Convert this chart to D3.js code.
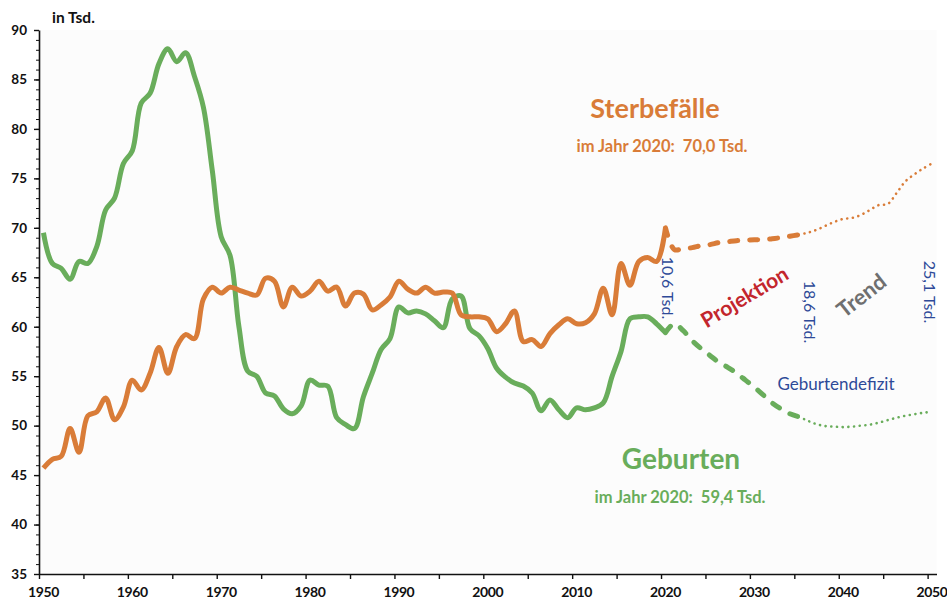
<!DOCTYPE html>
<html>
<head>
<meta charset="utf-8">
<title>Geburten und Sterbefälle</title>
<script src="https://d3js.org/d3.v7.min.js"></script>
<style>
  body { margin: 0; background: #fff; }
  svg text { font-family: Lato, "Open Sans", sans-serif; }
</style>
</head>
<body>
<div id="chart"></div>
<script>
// Werte in Tsd.
var FIRST_YEAR = 1950;
var births = [69.5, 66.4, 65.9, 64.8, 66.6, 66.4, 68.1, 71.8, 73.0, 76.5,
              77.8, 82.6, 83.6, 86.6, 88.1, 86.8, 87.7, 85.3, 82.2, 75.8,
              69.1, 67.2, 60.0, 55.5, 55.0, 53.3, 53.0, 51.7, 51.2, 52.0,
              54.6, 54.1, 54.0, 50.8, 50.1, 49.7, 52.9, 55.3, 57.7, 58.8,
              62.0, 61.4, 61.6, 61.3, 60.6, 59.9, 62.8, 63.1, 59.8, 59.1,
              57.8, 55.8, 54.9, 54.3, 54.0, 53.3, 51.5, 52.6, 51.6, 50.8,
              51.8, 51.6, 51.8, 52.3, 55.0, 57.5, 60.8, 61.0, 61.0, 60.3,
              59.4];
var deaths = [45.7, 46.6, 46.9, 49.7, 47.3, 51.0, 51.4, 52.8, 50.6, 51.9,
              54.6, 53.6, 55.3, 57.9, 55.3, 58.0, 59.2, 58.8, 62.8, 64.0,
              63.4, 64.0, 63.7, 63.4, 63.2, 64.9, 64.6, 62.0, 64.0, 63.1,
              63.6, 64.6, 63.6, 64.0, 62.1, 63.4, 63.3, 61.7, 62.2, 63.0,
              64.6, 63.8, 63.4, 64.0, 63.4, 63.5, 63.4, 61.2, 61.0, 61.0,
              60.8, 59.5, 60.3, 61.6, 58.5, 58.7, 58.0, 59.3, 60.2, 60.8,
              60.3, 60.4, 61.3, 63.9, 61.2, 66.4, 64.2, 66.6, 67.0, 66.6,
              70.0];

// Projektion 2020-2035
var PROJ_START = 2020;
var birthsProj = [59.4, 60.3, 59.6, 58.6, 57.8, 57.1, 56.4, 55.9, 55.3, 54.6,
                  53.9, 53.1, 52.3, 51.7, 51.2, 50.9];
var deathsProj = [70.0, 67.8, 67.9, 68.0, 68.2, 68.3, 68.5, 68.6, 68.7, 68.75,
                  68.8, 68.8, 68.9, 69.0, 69.15, 69.3];

// Trend 2035-2050
var TREND_START = 2035;
var birthsTrend = [50.9, 50.5, 50.15, 49.95, 49.9, 49.85, 49.9, 50.0, 50.1, 50.3,
                   50.55, 50.8, 51.0, 51.15, 51.3, 51.4];
var deathsTrend = [69.3, 69.5, 69.8, 70.2, 70.6, 70.9, 71.0, 71.3, 71.8, 72.3,
                   72.4, 73.5, 74.7, 75.4, 76.0, 76.5];

var yLabels = [35, 40, 45, 50, 55, 60, 65, 70, 75, 80, 85, 90];
var xLabels = [1950, 1960, 1970, 1980, 1990, 2000, 2010, 2020, 2030, 2040, 2050];
var xTickYears = [1950, 1955, 1960, 1965, 1970, 1975, 1980, 1985, 1990, 1995, 2000,
                  2005, 2010, 2015, 2020, 2025, 2030, 2035, 2040, 2045, 2050];

var ORANGE = "#d97c38";
var GREEN = "#69ad5b";
var BLUE = "#2e4a98";

var width = 947, height = 600;

var svg = d3.select("#chart").append("svg")
    .attr("width", width)
    .attr("height", height);

// Kategorienachse: Jahr liegt in der Mitte seines Feldes
var x = d3.scaleLinear().domain([1950, 2051]).range([39, 936.5]);
var y = d3.scaleLinear().domain([35, 90]).range([574, 30]);

svg.append("rect")
    .attr("x", x(1950)).attr("y", y(90))
    .attr("width", x(2051) - x(1950)).attr("height", y(35) - y(90))
    .attr("fill", "#fcfcfc");

function toPoints(values, start) {
    return values.map(function(v, i) { return {year: start + i, value: v}; });
}

var line = d3.line()
    .x(function(d) { return x(d.year + 0.5); })
    .y(function(d) { return y(d.value); })
    .curve(d3.curveCatmullRom.alpha(0.5));

// Y-Achse
var yMinor = d3.range(35, 91);
svg.append("g")
    .attr("transform", "translate(" + x(1950) + ",0)")
    .call(d3.axisLeft(y).tickValues(yMinor).tickSize(3).tickFormat(""))
    .call(function(g) { g.select(".domain").remove(); })
    .selectAll("line").attr("stroke", "#111").attr("stroke-width", 1);

var yAxis = svg.append("g")
    .attr("transform", "translate(" + x(1950) + ",0)")
    .call(d3.axisLeft(y).tickValues(yLabels).tickSize(5).tickPadding(7).tickSizeOuter(0));
yAxis.select(".domain").attr("stroke", "#111").attr("stroke-width", 1.6);
yAxis.selectAll(".tick line").attr("stroke", "#111").attr("stroke-width", 1.4);
yAxis.selectAll("text")
    .attr("font-family", "Lato, sans-serif")
    .attr("font-weight", 700)
    .attr("font-size", 13.5)
    .attr("fill", "#111");

// X-Achse
var xAxis = svg.append("g")
    .attr("transform", "translate(0," + y(35) + ")")
    .call(d3.axisBottom(x).tickValues(xTickYears).tickSize(5).tickFormat("").tickSizeOuter(0));
xAxis.select(".domain").attr("stroke", "#111").attr("stroke-width", 1.6);
xAxis.selectAll(".tick line").attr("stroke", "#111").attr("stroke-width", 1.4);

svg.append("g").selectAll("text")
    .data(xLabels)
    .enter().append("text")
    .attr("x", function(d) { return x(d + 0.5); })
    .attr("y", 597)
    .attr("text-anchor", "middle")
    .attr("font-weight", 700)
    .attr("font-size", 14)
    .attr("letter-spacing", -0.4)
    .attr("fill", "#111")
    .text(function(d) { return d; });

svg.append("text")
    .attr("x", 52).attr("y", 23)
    .attr("font-weight", 700)
    .attr("font-size", 15.5)
    .attr("fill", "#111")
    .text("in Tsd.");

// Linien
function drawSeries(values, start, color, width, dash) {
    svg.append("path")
        .datum(toPoints(values, start))
        .attr("fill", "none")
        .attr("stroke", color)
        .attr("stroke-width", width)
        .attr("stroke-linejoin", "round")
        .attr("stroke-linecap", dash ? "round" : "butt")
        .attr("stroke-dasharray", dash || null)
        .attr("d", line);
}

drawSeries(deathsTrend, TREND_START, ORANGE, 2.6, "0.1,5.6");
drawSeries(birthsTrend, TREND_START, GREEN, 2.6, "0.1,5.6");
drawSeries(deathsProj, PROJ_START, ORANGE, 5, "8,12");
drawSeries(birthsProj, PROJ_START, GREEN, 5, "8,12");
drawSeries(births, FIRST_YEAR, GREEN, 5, null);
drawSeries(deaths, FIRST_YEAR, ORANGE, 5, null);

// Beschriftungen
svg.append("text")
    .attr("x", 655).attr("y", 118)
    .attr("text-anchor", "middle")
    .attr("font-weight", 700).attr("font-size", 27)
    .attr("fill", ORANGE)
    .text("Sterbefälle");
svg.append("text")
    .attr("x", 662).attr("y", 152)
    .attr("text-anchor", "middle")
    .attr("font-weight", 700).attr("font-size", 16.5)
    .attr("fill", ORANGE)
    .style("white-space", "pre")
    .text("im Jahr 2020:  70,0 Tsd.");

svg.append("text")
    .attr("x", 681).attr("y", 469)
    .attr("text-anchor", "middle")
    .attr("font-weight", 700).attr("font-size", 28)
    .attr("fill", GREEN)
    .text("Geburten");
svg.append("text")
    .attr("x", 680).attr("y", 503)
    .attr("text-anchor", "middle")
    .attr("font-weight", 700).attr("font-size", 16.5)
    .attr("fill", GREEN)
    .style("white-space", "pre")
    .text("im Jahr 2020:  59,4 Tsd.");

function rotated(txt, cx, cy, angle, color, size, weight) {
    svg.append("text")
        .attr("transform", "translate(" + cx + "," + cy + ") rotate(" + angle + ")")
        .attr("text-anchor", "middle")
        .attr("dominant-baseline", "central")
        .attr("font-size", size)
        .attr("font-weight", weight)
        .attr("fill", color)
        .text(txt);
}

rotated("10,6 Tsd.", 668, 288, 90, BLUE, 16, 400);
rotated("18,6 Tsd.", 810, 312, 90, BLUE, 16, 400);
rotated("25,1 Tsd.", 930, 292, 90, BLUE, 16, 400);
rotated("Projektion", 744, 296, -31, "#c3262d", 21, 700);
rotated("Trend", 861, 295, -38, "#6f6f6f", 22, 700);

svg.append("text")
    .attr("x", 836).attr("y", 390)
    .attr("text-anchor", "middle")
    .attr("font-size", 17).attr("font-weight", 400)
    .attr("fill", BLUE)
    .text("Geburtendefizit");
</script>
</body>
</html>
